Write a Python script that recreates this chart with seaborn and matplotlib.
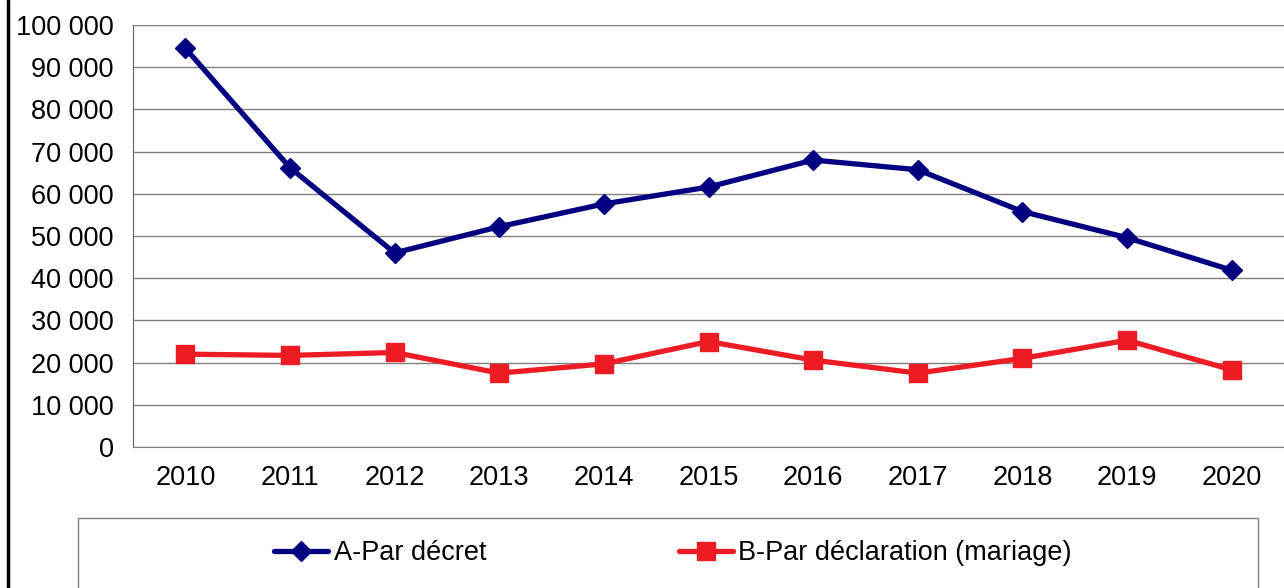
import pandas as pd
import matplotlib
matplotlib.use("Agg")
import matplotlib.pyplot as plt
import seaborn as sns
from matplotlib.lines import Line2D
from matplotlib.patches import Rectangle
from matplotlib.ticker import FuncFormatter, MultipleLocator

# données
annees = ["2010", "2011", "2012", "2013", "2014", "2015",
          "2016", "2017", "2018", "2019", "2020"]
par_decret = [94500, 66200, 46000, 52200, 57600, 61600,
              68000, 65700, 55800, 49600, 41900]
par_declaration = [22000, 21700, 22400, 17500, 19700, 25000,
                   20600, 17500, 21000, 25300, 18300]
series = ["A-Par décret", "B-Par déclaration (mariage)"]

df = pd.DataFrame({
    "x": list(range(len(annees))) * 2,
    "valeur": par_decret + par_declaration,
    "serie": [series[0]] * len(annees) + [series[1]] * len(annees),
})

sns.set_style("white")
plt.rcParams["font.family"] = ["Liberation Sans", "DejaVu Sans"]
plt.rcParams["text.color"] = "black"
plt.rcParams["xtick.labelcolor"] = "black"
plt.rcParams["ytick.labelcolor"] = "black"

bleu = "#000080"
rouge = "#ED1C24"
couleurs = {series[0]: bleu, series[1]: rouge}
taille_police = 19.5

fig = plt.figure(figsize=(12.84, 5.88), dpi=100)
ax = fig.add_axes([133 / 1284, 1 - 447 / 588, 1 - 133 / 1284, (447 - 25) / 588])

sns.lineplot(data=df, x="x", y="valeur", hue="serie", style="serie",
             palette=couleurs, markers={series[0]: "D", series[1]: "s"},
             dashes=False, linewidth=3.8, legend=False, ax=ax)
# tailles des marqueurs
for ln, ms, c in zip(ax.get_lines(), [10.5, 13.5], [bleu, rouge]):
    ln.set_markersize(ms)
    ln.set_markeredgecolor(c)
    ln.set_markeredgewidth(1)

ax.set_xlim(-0.5, len(annees) - 0.5)
ax.set_ylim(0, 100000)
ax.yaxis.set_major_locator(MultipleLocator(10000))
ax.yaxis.set_major_formatter(FuncFormatter(lambda v, p: f"{v:,.0f}".replace(",", " ")))
ax.set_xticks(range(len(annees)))
ax.set_xticklabels(annees)
ax.set_xticks([i - 0.5 for i in range(len(annees) + 1)], minor=True)
ax.tick_params(axis="x", which="major", length=0, pad=13, labelsize=taille_police)
ax.tick_params(axis="x", which="minor", length=7, color="#808080", width=1)
ax.tick_params(axis="y", length=8, color="#808080", width=1, pad=6, labelsize=taille_police)
ax.set_xlabel("")
ax.set_ylabel("")

ax.grid(axis="y", color="#808080", linewidth=1)
ax.set_axisbelow(True)
for cote in ["top", "right"]:
    ax.spines[cote].set_visible(False)
ax.spines["left"].set_color("#606060")
ax.spines["bottom"].set_color("#808080")

# cadre de la légende
fig.add_artist(Rectangle((78 / 1284, -0.1), (1258 - 78) / 1284, 1.1 - 518 / 588,
                         transform=fig.transFigure, facecolor="none",
                         edgecolor="#808080", linewidth=1))
# bord gauche
fig.add_artist(Line2D([8 / 1284, 8 / 1284], [0, 1], transform=fig.transFigure,
                      color="black", linewidth=2.5))

poignees = [
    Line2D([], [], color=bleu, marker="D", markersize=10.5, linewidth=3.8),
    Line2D([], [], color=rouge, marker="s", markersize=13.5, linewidth=3.8),
]
fig.legend(poignees, series, loc="center", bbox_to_anchor=(673 / 1284, 1 - 553 / 588),
           ncol=2, frameon=False, fontsize=taille_police, handlelength=2.0,
           handletextpad=0.2, columnspacing=7.1)

fig.savefig("out.png", dpi=100)
